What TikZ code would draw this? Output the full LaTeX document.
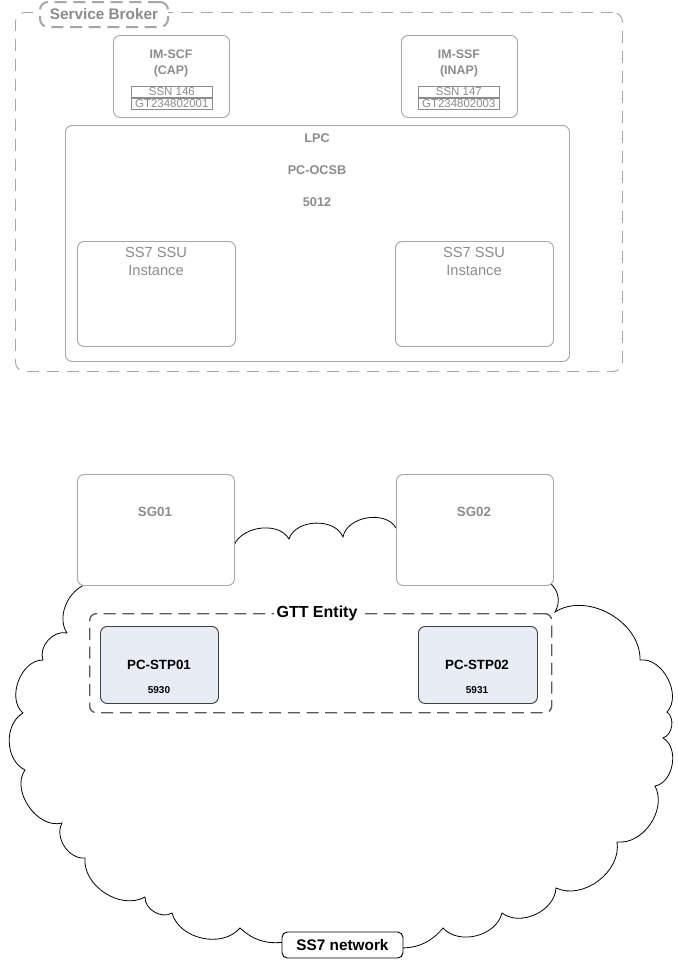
\documentclass[tikz,border=0pt]{standalone}
\usepackage{fontspec}
\setmainfont{Liberation Sans}

\definecolor{boxgray}{HTML}{A6A6A6}
\definecolor{txtgray}{HTML}{8C8C8C}
\definecolor{stpfill}{HTML}{E8ECF5}

\tikzset{
  graybox/.style={draw=boxgray, line width=0.7pt, rounded corners=5pt, fill=white, anchor=north west, inner sep=0pt},
  tblcell/.style={draw=txtgray, line width=0.5pt, fill=white, inner sep=0pt, text=txtgray,
    minimum width=60.75pt, minimum height=8.25pt, font=\fontsize{8.6}{9}\selectfont},
  graytxt/.style={text=txtgray, align=center, inner sep=0pt},
  stpbox/.style={draw=black!75, line width=0.7pt, fill=stpfill, rounded corners=5pt, anchor=north west,
    inner sep=0pt, minimum height=57.75pt},
  puff/.style={bend left=#1},
  puff/.default=62
}

\begin{document}
\begin{tikzpicture}[x=0.75pt, y=-0.75pt]
    \useasboundingbox (0,0) rectangle (678,960);

    % service broker
    \node[draw=boxgray, line width=0.7pt, dash pattern=on 9pt off 6pt, rounded corners=7pt, anchor=north west,
      inner sep=0pt, minimum width=455.25pt, minimum height=269.25pt] (SB) at (15,12) {};
    \node[draw=boxgray, fill=white, line width=1.5pt, dash pattern=on 9pt off 5pt, rounded corners=6pt,
      inner sep=0pt, minimum width=96pt, minimum height=18.75pt, text=txtgray,
      font=\bfseries\fontsize{11.5}{13}\selectfont] (SB_label) at (104,14.5) {Service Broker};

    \node[graybox, minimum width=87pt, minimum height=61.5pt] (SCF) at (113,35) {};
    \node[graytxt, font=\bfseries\fontsize{9.3}{12}\selectfont] (SCF_txt) at (171,63) {IM-SCF\\(CAP)};
    \node[tblcell, anchor=north west] (SCF_ssn) at (131,86) {SSN 146};
    \node[tblcell, anchor=north] (SCF_gt) at (SCF_ssn.south) {GT234802001};

    \node[graybox, minimum width=87pt, minimum height=61.5pt] (SSF) at (401,35) {};
    \node[graytxt, font=\bfseries\fontsize{9.3}{12}\selectfont] (SSF_txt) at (459,63) {IM-SSF\\(INAP)};
    \node[tblcell, anchor=north west] (SSF_ssn) at (418,86) {SSN 147};
    \node[tblcell, anchor=north] (SSF_gt) at (SSF_ssn.south) {GT234802003};

    \node[graybox, minimum width=378pt, minimum height=177pt] (LPC) at (65,125) {};
    \node[graytxt, font=\bfseries\fontsize{9.5}{24}\selectfont] (LPC_txt) at (317,170) {LPC\\PC-OCSB\\5012};

    \node[graybox, minimum width=118.5pt, minimum height=78.75pt] (SSU1) at (77,241) {};
    \node[graytxt, font=\fontsize{11}{13.5}\selectfont] (SSU1_txt) at (156,261) {SS7 SSU\\Instance};
    \node[graybox, minimum width=118.5pt, minimum height=78.75pt] (SSU2) at (395,241) {};
    \node[graytxt, font=\fontsize{11}{13.5}\selectfont] (SSU2_txt) at (474,261) {SS7 SSU\\Instance};

    % ss7 network cloud
    \coordinate (SS7_e) at (400,948);
    \coordinate (SS7_w) at (285,942);
    \draw[line width=0.6pt] (233,549) to[puff=70] (289,539) to[puff=70] (343,537) to[puff=70] (396,528)
      -- (550,583) to[puff=40] (555,612) to[puff] (640,660) to[puff=70] (667,712) to[puff] (663,738)
      to[puff=70] (655,786) to[puff] (617,842) to[puff] (556,888) to[puff] (502,913) to[puff] (443,928)
      to[puff=25] (SS7_e) -- (SS7_w) to[puff=25] (240,928) to[puff] (172,913) to[puff] (145,897)
      to[puff] (85,858) to[puff] (62,823) to[puff=70] (25,770) to[puff] (23,713) to[puff=70] (43,660)
      to[puff] (67,633) to[puff] (94,583) -- cycle;
    \node[draw=black, line width=0.7pt, fill=white, rounded corners=4pt, inner sep=0pt,
      minimum width=90.75pt, minimum height=19.5pt, font=\bfseries\fontsize{11.5}{13}\selectfont] (SS7) at (342.5,945) {SS7 network};

    \node[graybox, minimum width=117.75pt, minimum height=83.25pt] (SG01) at (77,474) {};
    \node[graytxt, font=\bfseries\fontsize{10}{12}\selectfont] (SG01_txt) at (155,512) {SG01};
    \node[graybox, minimum width=117.75pt, minimum height=83.25pt] (SG02) at (396,474) {};
    \node[graytxt, font=\bfseries\fontsize{10}{12}\selectfont] (SG02_txt) at (474,512) {SG02};

    % gtt entity
    \node[draw=black!65, line width=1pt, dash pattern=on 9pt off 5pt, rounded corners=5pt, anchor=north west,
      inner sep=0pt, minimum width=346.5pt, minimum height=74.25pt] (GTT) at (89,613) {};
    \node[fill=white, inner sep=2pt, font=\bfseries\fontsize{12}{14}\selectfont] (GTT_label) at (317,613) {GTT Entity};

    \node[stpbox, minimum width=88.5pt] (STP01) at (100,626) {};
    \node[font=\bfseries\fontsize{10}{12}\selectfont, inner sep=0pt] (STP01_name) at (159,665) {PC-STP01};
    \node[font=\bfseries\fontsize{7.5}{9}\selectfont, inner sep=0pt] (STP01_pc) at (159,690) {5930};
    \node[stpbox, minimum width=89.25pt] (STP02) at (418,626) {};
    \node[font=\bfseries\fontsize{10}{12}\selectfont, inner sep=0pt] (STP02_name) at (477,665) {PC-STP02};
    \node[font=\bfseries\fontsize{7.5}{9}\selectfont, inner sep=0pt] (STP02_pc) at (477,690) {5931};

\end{tikzpicture}
\end{document}
